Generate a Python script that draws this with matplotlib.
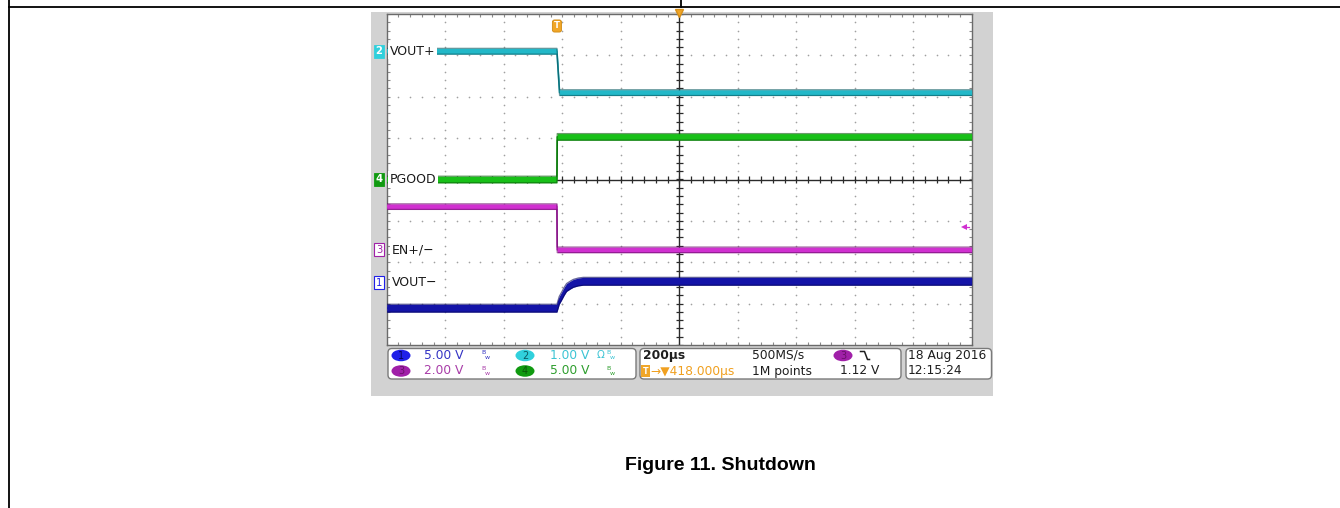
import numpy as np
import matplotlib
matplotlib.use('Agg')
import matplotlib.pyplot as plt
from matplotlib.patches import Rectangle, FancyBboxPatch, Ellipse

# ---------------- data ----------------
time_per_div_us = 200
trigger_offset_us = -418
trigger_level_v = 1.12
trigger_channel = 3

ch_numbers = [1, 2, 3, 4]
ch_labels = ['VOUT−', 'VOUT+', 'EN+/−', 'PGOOD']
ch_volts_per_div = [5.0, 1.0, 2.0, 5.0]
ch_position_div = [-2.5, 3.1, -1.70, 0.0]
ch_colors = ['#1414a8', '#22b8c8', '#d030d0', '#18c018']
ch_dark = ['#05055a', '#0a5a62', '#6a106a', '#0a5a0a']
ch_text_colors = ['#3434c4', '#3cc4d4', '#a83ca8', '#2e9e2e']
ch_oval_colors = ['#2020e8', '#30d0dc', '#a020a8', '#109a10']
ch_band_div = [0.095, 0.07, 0.068, 0.08]

# waveforms: time (us), voltage (V)
vout_minus_t = [-1000, -418, -410, -402, -393, -385, -372, -362, -345, -328, 1000]
vout_minus_v = [-3.05, -3.05, -2.1, -1.6, -1.0, -0.55, -0.25, -0.05, 0.12, 0.2, 0.2]
vout_plus_t = [-1000, -418, -409, 1000]
vout_plus_v = [0.0, 0.0, -1.0, -1.0]
en_t = [-1000, -418, -417, 1000]
en_v = [2.09, 2.09, 0.0, 0.0]
pgood_t = [-1000, -418, -417, 1000]
pgood_v = [0.0, 0.0, 5.15, 5.15]

wave_t = [vout_minus_t, vout_plus_t, en_t, pgood_t]
wave_v = [vout_minus_v, vout_plus_v, en_v, pgood_v]

readout_scale = ['5.00 V', '1.00 V', '2.00 V', '5.00 V']
timebase_text = '200µs'
delay_text = '→▼418.000µs'
sample_rate_text = '500MS/s'
record_text = '1M points'
trig_level_text = '1.12 V'
date_text = '18 Aug 2016'
time_text = '12:15:24'
caption = 'Figure 11. Shutdown'

# ---------------- figure ----------------
W, H = 1340, 508
fig = plt.figure(figsize=(W / 100, H / 100), dpi=100)
fig.patch.set_facecolor('white')

bg = fig.add_axes([0, 0, 1, 1])
bg.set_xlim(0, W); bg.set_ylim(H, 0); bg.axis('off'); bg.set_zorder(1)

# page frame lines
bg.plot([8.5, W], [6.5, 6.5], color='black', lw=1.3)
bg.plot([8.5, 8.5], [0, H], color='black', lw=1.3)
bg.plot([681, 681], [0, 6.5], color='black', lw=1.3)

# screenshot gray background
bg.add_patch(Rectangle((371, 12), 622, 384, facecolor='#d2d2d2', edgecolor='none'))

# graticule geometry (pixels)
gx0, gx1, gy0, gy1 = 386.7, 971.7, 14.0, 345.0

sc = fig.add_axes([gx0 / W, 1 - gy1 / H, (gx1 - gx0) / W, (gy1 - gy0) / H])
sc.set_zorder(2)
sc.set_facecolor('white')
sc.set_xlim(-5 * time_per_div_us, 5 * time_per_div_us)
sc.set_ylim(-4, 4)
sc.set_xticks([]); sc.set_yticks([])
for s in sc.spines.values():
    s.set_color('#6a6a6a'); s.set_linewidth(1.0)

xmax = 5 * time_per_div_us
minor_x = np.arange(-xmax, xmax + 1, time_per_div_us / 5)
minor_y = np.arange(-4, 4.001, 0.2)
grid_col = '#a0a0a0'
for k in range(-4, 5):
    if k == 0:
        continue
    x = k * time_per_div_us
    sc.plot(np.full_like(minor_y, x), minor_y, ls='none', marker='o', ms=1.2,
            mew=0, color=grid_col, zorder=1)
for k in range(-3, 4):
    if k == 0:
        continue
    sc.plot(minor_x, np.full_like(minor_x, k), ls='none', marker='o', ms=1.2,
            mew=0, color=grid_col, zorder=1)
# border ticks
tick_t = time_per_div_us * 3 / 58.5
sc.vlines(minor_x, 4 - 0.075, 4, color='#8a8a8a', lw=0.8, zorder=1)
sc.vlines(minor_x, -4, -4 + 0.075, color='#8a8a8a', lw=0.8, zorder=1)
sc.hlines(minor_y, -xmax, -xmax + tick_t, color='#8a8a8a', lw=0.8, zorder=1)
sc.hlines(minor_y, xmax - tick_t, xmax, color='#8a8a8a', lw=0.8, zorder=1)
# center cross
sc.axhline(0, color='#2a2a2a', lw=1.0, zorder=1.5)
sc.axvline(0, color='#2a2a2a', lw=1.0, zorder=1.5)
sc.vlines(minor_x, -0.08, 0.08, color='#2a2a2a', lw=0.9, zorder=1.5)
sc.hlines(minor_y, -tick_t * 1.2, tick_t * 1.2, color='#2a2a2a', lw=0.9, zorder=1.5)

# traces
draw_order = [1, 3, 2, 0]
for i in draw_order:
    t = np.array(wave_t[i], dtype=float)
    y = ch_position_div[i] + np.array(wave_v[i]) / ch_volts_per_div[i]
    h = ch_band_div[i]
    sc.fill_between(t, y - h, y + h, color=ch_colors[i], lw=0, zorder=3)
    sc.plot(t, y + h, color=ch_dark[i], lw=0.9, alpha=0.6, zorder=3.2)
    sc.plot(t, y - h, color=ch_dark[i], lw=0.9, alpha=0.6, zorder=3.2)
    sc.plot(t, y, color=ch_colors[i], lw=1.2, zorder=3.1)

# trigger position marker and delay marker
sc.text(trigger_offset_us, 3.71, 'T', color='white', fontsize=6.2, fontweight='bold',
        ha='center', va='center', zorder=6,
        bbox=dict(boxstyle='round,pad=0.18,rounding_size=0.25', fc='#f0a628', ec='#d08a10', lw=0.6))
sc.plot([0], [4.02], marker='v', ms=5.5, color='#f0a628', mec='#d89018', clip_on=False, zorder=6)

# trigger level arrow
ti = trigger_channel - 1
lvl = ch_position_div[ti] + trigger_level_v / ch_volts_per_div[ti]
sc.plot([975], [lvl], marker='<', ms=4.5, color=ch_colors[ti], mew=0, zorder=6)
sc.plot([975, 990], [lvl, lvl], color=ch_colors[ti], lw=0.9, zorder=6)

# overlay for labels
ov = fig.add_axes([0, 0, 1, 1])
ov.set_xlim(0, W); ov.set_ylim(H, 0); ov.axis('off'); ov.set_zorder(3)

def px_y(div):
    return 179.5 - div * (gy1 - gy0) / 8.0

label_x = [391.5, 389.5, 391.5, 389.5]
for i in range(4):
    gy = px_y(ch_position_div[i])
    ov.text(label_x[i], gy, ch_labels[i], fontsize=9.0, color='#1a1a1a', ha='left',
            va='center', family='DejaVu Sans', zorder=5,
            bbox=dict(fc='white', ec='none', pad=1.2))
    # ground marker
    if ch_numbers[i] in (2, 4):
        ov.text(379, gy, str(ch_numbers[i]), fontsize=7.2, color='white', ha='center',
                va='center', fontweight='bold',
                bbox=dict(boxstyle='square,pad=0.15', fc=ch_oval_colors[i], ec=ch_oval_colors[i], lw=0.6))
    else:
        ov.text(379, gy, str(ch_numbers[i]), fontsize=7.2, color=ch_oval_colors[i],
                ha='center', va='center',
                bbox=dict(boxstyle='square,pad=0.15', fc='white', ec=ch_oval_colors[i], lw=0.8))

# ---------------- readout ----------------
box_ec = '#7a7a7a'
for (x0, w) in [(388, 248), (640, 261), (906, 85.5)]:
    bg.add_patch(FancyBboxPatch((x0, 348.5), w, 30.5,
                                boxstyle='round,pad=0,rounding_size=4',
                                fc='white', ec=box_ec, lw=1.0, zorder=2))

row_y = [355.5, 371]
oval_pos = {1: (401, row_y[0]), 3: (401, row_y[1]), 2: (525, row_y[0]), 4: (525, row_y[1])}
scale_x = {1: 424, 3: 424, 2: 550, 4: 550}
bw_x = {1: 485, 3: 485, 2: 610, 4: 610}
fs = 8.8
for i in range(4):
    n = ch_numbers[i]
    cx, cy = oval_pos[n]
    bg.add_patch(Ellipse((cx, cy), 19, 11.5, fc=ch_oval_colors[i], ec='none', zorder=3))
    bg.text(cx, cy + 0.3, str(n), fontsize=7, color=ch_dark[i], ha='center', va='center', zorder=4)
    bg.text(scale_x[n], cy, readout_scale[i], fontsize=fs, color=ch_text_colors[i],
            ha='left', va='center', zorder=4)
    bx = bw_x[n]
    bg.text(bx - 1.5, cy - 2.5, 'B', fontsize=4.5, color=ch_text_colors[i], ha='center', va='center', zorder=4)
    bg.text(bx + 1.8, cy + 2.2, 'w', fontsize=4.5, color=ch_text_colors[i], ha='center', va='center', zorder=4)
    if n == 2:
        bg.text(597, cy, 'Ω', fontsize=7.5, color=ch_text_colors[i], ha='left', va='center', zorder=4)

dark_txt = '#1e1e1e'
bg.text(643, row_y[0], timebase_text, fontsize=fs, color=dark_txt, ha='left', va='center',
        fontweight='bold', zorder=4)
bg.text(645.5, row_y[1], 'T', fontsize=5.8, color='white', fontweight='bold', ha='center',
        va='center', zorder=4,
        bbox=dict(boxstyle='square,pad=0.15', fc='#f0a628', ec='none'))
bg.text(650, row_y[1], delay_text, fontsize=fs, color='#f0a020', ha='left', va='center', zorder=4)
bg.text(752, row_y[0], sample_rate_text, fontsize=fs, color=dark_txt, ha='left', va='center', zorder=4)
bg.text(752, row_y[1], record_text, fontsize=fs, color=dark_txt, ha='left', va='center', zorder=4)
bg.add_patch(Ellipse((843, row_y[0]), 19, 11.5, fc=ch_oval_colors[2], ec='none', zorder=3))
bg.text(843, row_y[0] + 0.3, str(trigger_channel), fontsize=7, color=ch_dark[2], ha='center',
        va='center', zorder=4)
bg.plot([860.5, 864.5, 867.5, 869.5], [351.5, 351.5, 359.5, 359.5], color=dark_txt, lw=1.1, zorder=4)
bg.text(840, row_y[1], trig_level_text, fontsize=fs, color=dark_txt, ha='left', va='center', zorder=4)
bg.text(908, row_y[0], date_text, fontsize=fs, color=dark_txt, ha='left', va='center', zorder=4)
bg.text(908, row_y[1], time_text, fontsize=fs, color=dark_txt, ha='left', va='center', zorder=4)

# caption
bg.text(720, 470, caption, fontsize=14, fontweight='bold', family='Liberation Sans',
        ha='center', va='baseline', color='black')

fig.savefig('out.png', dpi=100, facecolor='white')
